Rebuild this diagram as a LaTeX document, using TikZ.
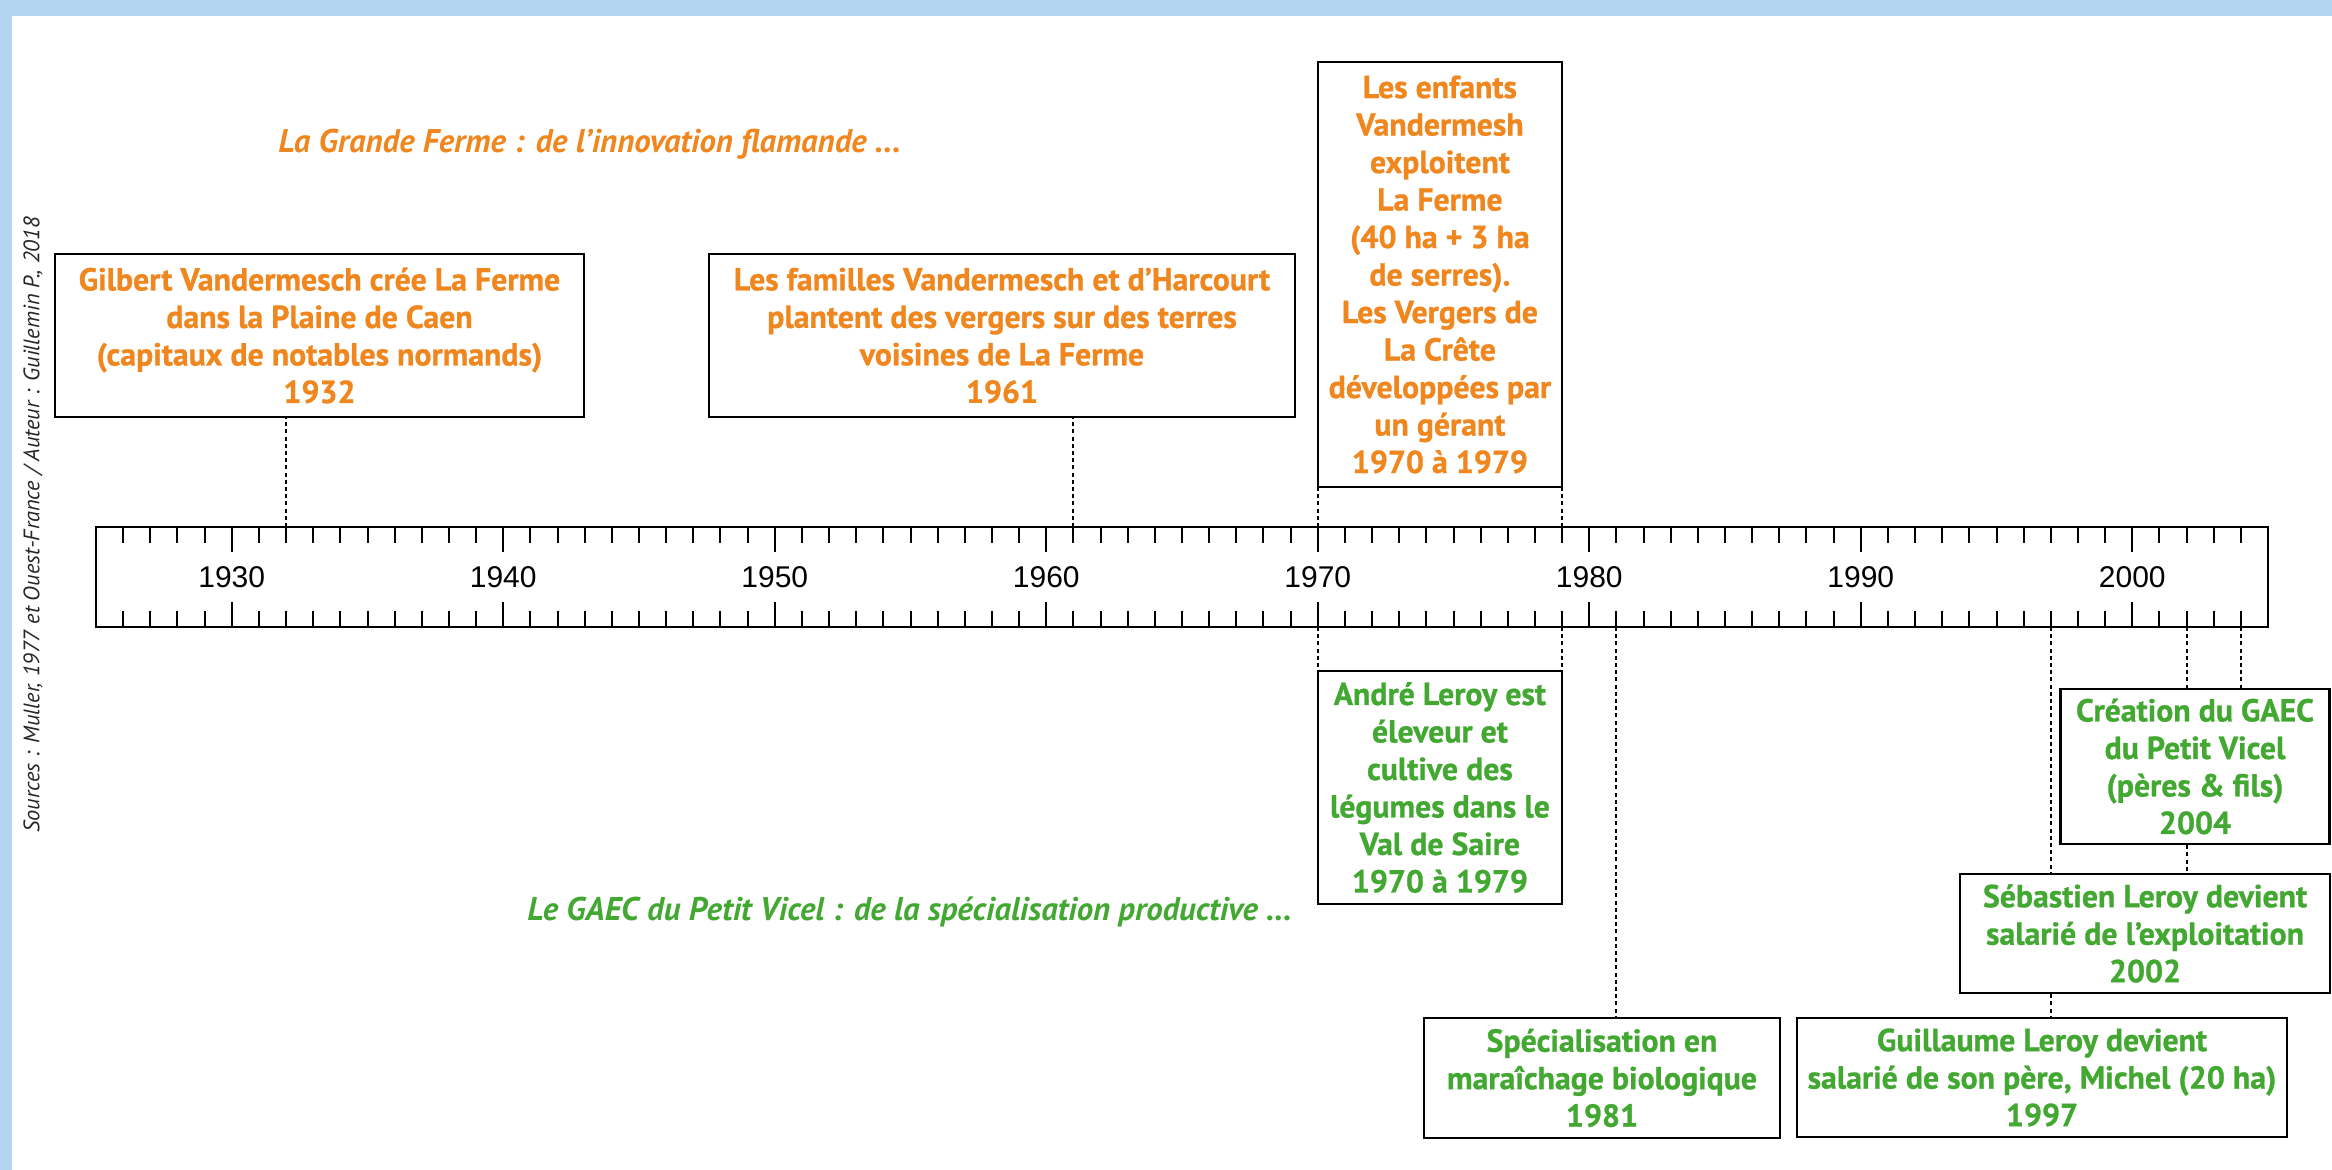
\documentclass[tikz,border=0pt]{standalone}
\usepackage{fontspec}
\setmainfont{PT Sans}[BoldFeatures={FakeBold=0.8}]
\newfontfamily\axefont{Liberation Sans}
\usepackage{tikz}
\usetikzlibrary{positioning}
\definecolor{orangeferme}{RGB}{240,134,30}
\definecolor{vertgaec}{RGB}{66,168,50}
\definecolor{bandeau}{RGB}{180,213,241}
\tikzstyle{evt}=[draw=black,line width=1.1pt,fill=white,inner sep=0pt,align=center,font=\bfseries\fontsize{15.9}{18.75}\selectfont]
\tikzstyle{fermebox}=[evt,text=orangeferme]
\tikzstyle{gaecbox}=[evt,text=vertgaec]
\tikzstyle{lien}=[line width=1.05pt,dash pattern=on 2pt off 1.6pt]
\tikzstyle{axe}=[line width=1pt]
\tikzstyle{titre}=[inner sep=0pt,anchor=base west,font=\bfseries\itshape\fontsize{16.4}{18}\selectfont]

\begin{document}
\begin{tikzpicture}[x=0.5pt,y=-0.5pt]
    \useasboundingbox (0,0) rectangle (2332,1170);
    \fill[bandeau] (0,0) rectangle (2332,16);
    \fill[bandeau] (0,0) rectangle (12,1170);

    % source, texte vertical
    \node[rotate=90,inner sep=0pt,text=black!85,font=\itshape\fontsize{11.2}{13}\selectfont] (source) at (33,525) {Sources : Muller, 1977 et Ouest-France / Auteur : Guillemin P., 2018};

    % frise
    \draw[axe] (96,527) rectangle (2268,627);
    \foreach \an in {1926,...,2004}{
        \pgfmathsetmacro{\ax}{96+(\an-1925)*27.15}
        \pgfmathsetmacro{\tl}{ifthenelse(mod(\an,10)==0,25,16)}
        \draw[axe] (\ax,527) -- ++(0,\tl);
        \draw[axe] (\ax,627) -- ++(0,-\tl);
    }
    \foreach \an in {1930,1940,...,2000}
        \node[font=\axefont\fontsize{15}{17}\selectfont] (l\an) at ({96+(\an-1925)*27.15},577) {\an};

    \coordinate (t1932) at (286.05,527);
    \coordinate (t1961) at (1073.4,527);
    \coordinate (t1970) at (1317.75,527);
    \coordinate (t1979) at (1562.1,527);
    \coordinate (b1970) at (1317.75,627);
    \coordinate (b1979) at (1562.1,627);
    \coordinate (b1981) at (1616.4,627);
    \coordinate (b1997) at (2050.8,627);
    \coordinate (b2002) at (2186.55,627);
    \coordinate (b2004) at (2240.85,627);

    % titres
    \node[titre,text=orangeferme] (tferme) at (278,153) {La Grande Ferme : de l’innovation flamande ...};
    \node[titre,text=vertgaec] (tgaec) at (527,920) {Le GAEC du Petit Vicel : de la spécialisation productive ...};

    % la Grande Ferme
    \node[fermebox,minimum width=264.25pt,minimum height=81.35pt] (f1932) at (319.5,335.5) {Gilbert Vandermesch crée La Ferme\\dans la Plaine de Caen\\(capitaux de notables normands)\\1932};
    \node[fermebox,minimum width=293pt,minimum height=81.35pt] (f1961) at (1002,335.5) {Les familles Vandermesch et d’Harcourt\\plantent des vergers sur des terres\\voisines de La Ferme\\1961};
    \node[fermebox,minimum width=122.2pt,minimum height=212.5pt] (f1970) at (1439.9,274.5) {Les enfants\\Vandermesh\\exploitent\\La Ferme\\(40 ha + 3 ha\\de serres).\\Les Vergers de\\La Crête\\développées par\\un gérant\\1970 à 1979};

    % le GAEC du Petit Vicel
    \node[gaecbox,minimum width=122.2pt,minimum height=116.5pt] (g1970) at (1439.9,787.5) {André Leroy est\\éleveur et\\cultive des\\légumes dans le\\Val de Saire\\1970 à 1979};
    \node[gaecbox,minimum width=178pt,minimum height=60pt] (g1981) at (1602,1078) {Spécialisation en\\maraîchage biologique\\1981};
    \node[gaecbox,minimum width=134.5pt,minimum height=77.5pt] (g2004) at (2195,766.5) {Création du GAEC\\du Petit Vicel\\(pères \& fils)\\2004};
    \node[gaecbox,minimum width=185pt,minimum height=59.5pt] (g2002) at (2145,933.5) {Sébastien Leroy devient\\salarié de l’exploitation\\2002};
    \node[gaecbox,minimum width=245pt,minimum height=59.5pt] (g1997) at (2042,1077.5) {Guillaume Leroy devient\\salarié de son père, Michel (20 ha)\\1997};

    \draw[lien] (t1932) -- (t1932 |- f1932.south);
    \draw[lien] (t1961) -- (t1961 |- f1961.south);
    \draw[lien] (t1970) -- (t1970 |- f1970.south);
    \draw[lien] (t1979) -- (t1979 |- f1970.south);
    \draw[lien] (b1970) -- (b1970 |- g1970.north);
    \draw[lien] (b1979) -- (b1979 |- g1970.north);
    \draw[lien] (b1981) -- (b1981 |- g1981.north);
    \draw[lien] (b1997) -- (b1997 |- g2002.north);
    \draw[lien] (b1997 |- g2002.south) -- (b1997 |- g1997.north);
    \draw[lien] (b2002) -- (b2002 |- g2004.north);
    \draw[lien] (b2002 |- g2004.south) -- (b2002 |- g2002.north);
    \draw[lien] (b2004) -- (b2004 |- g2004.north);
\end{tikzpicture}
\end{document}
